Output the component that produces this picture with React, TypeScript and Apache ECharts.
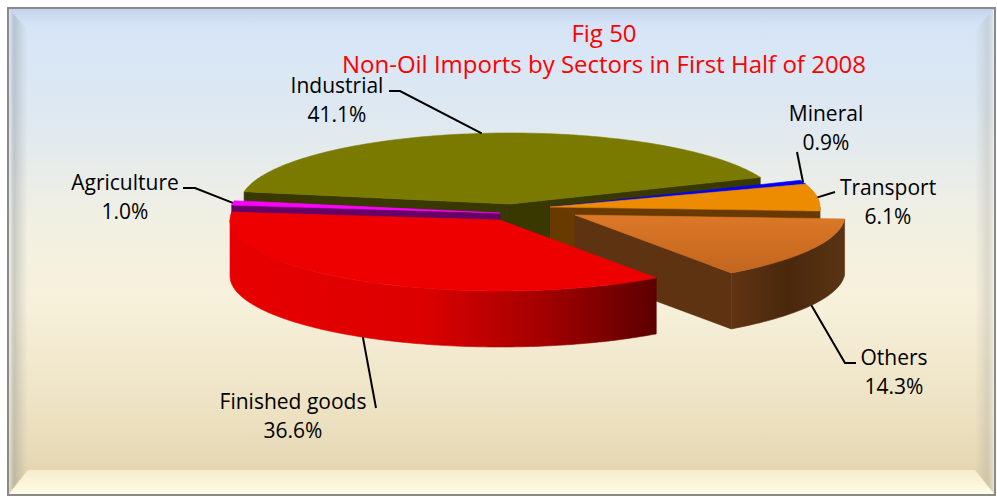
import React, { useEffect, useRef } from "react";
import * as echarts from "echarts";

// ---------- data ----------
const categories = ["Industrial", "Mineral", "Transport", "Others", "Finished goods", "Agriculture"];
const shares = [41.1, 0.9, 6.1, 14.3, 36.6, 1.0];
const titleLines = ["Fig 50", "Non-Oil Imports by Sectors in First Half of 2008"];

// ---------- layout / style ----------
const FONT_FAMILY = '"Open Sans", "Noto Sans", sans-serif';
const CX = 525, CY = 210, RX = 270, RY = 71, DEPTH = 56, START_ANGLE = 280;
const RAD = Math.PI / 180;
const EXPLODE: number[][] = [[-15, -6], [25, -3], [25, -3], [50, 5], [-25, 10], [-25, 3]];
const LABEL_POS: number[][] = [[337, 85], [826, 113], [888, 187], [894, 357], [293, 401], [125, 182]];
const LEADER_PTS: number[][][] = [
  [[400, 91], [389, 91]],
  [[797, 152]],
  [[835, 192]],
  [[845, 363], [856, 363]],
  [[376, 408]],
  [[195, 188], [183, 188]],
];

const lg = (x0: number, y0: number, x1: number, y1: number, stops: [number, string][]) =>
  new echarts.graphic.LinearGradient(x0, y0, x1, y1, stops.map(([offset, color]) => ({ offset, color })));

const TOP_FILL: any[] = [
  "#7a7a00",
  "#0000ff",
  "#ee8c00",
  lg(0, 0, 0, 1, [[0, "#dc7828"], [1, "#c2661e"]]),
  "#ee0000",
  "#ff00ff",
];
const SIDE_FILL: any[] = ["#383800", "#00008a", "#683a00", "#5e3312", "#8a0000", "#660066"];
const WALL_FILL: any[] = [
  "#4a4a00",
  "#0000a0",
  "#6a3c00",
  lg(0, 0, 1, 0, [[0, "#603414"], [0.5, "#4a280c"], [1, "#5a3414"]]),
  lg(0, 0, 1, 0, [[0, "#e80000"], [0.45, "#dc0000"], [0.75, "#a00000"], [1, "#5c0000"]]),
  "#7a007a",
];

const total = shares.reduce((s, v) => s + v, 0);
const starts: number[] = [];
{
  let acc = 0;
  shares.forEach((v) => {
    starts.push(START_ANGLE + (acc / total) * 360);
    acc += v;
  });
}
const mids = shares.map((v, i) => starts[i] + (v / total) * 180);
const order = shares.map((_, i) => i).sort((p, q) => -Math.cos(mids[p] * RAD) + Math.cos(mids[q] * RAD));
const RANK: number[] = [];
order.forEach((idx, r) => (RANK[idx] = r));

function renderItem(params: any, api: any) {
  const i = params.dataIndex;
  const v = api.value(0) as number;
  const a = starts[i];
  const b = a + (v / total) * 360;
  const [ox, oy] = EXPLODE[i];
  const P = (t: number, r: number, z: number) => [
    CX + ox + r * RX * Math.sin(t * RAD),
    CY + oy - r * RY * Math.cos(t * RAD) + z,
  ];
  const arc = (t0: number, t1: number, z: number) => {
    const n = Math.max(2, Math.ceil(Math.abs(t1 - t0)));
    const pts: number[][] = [];
    for (let k = 0; k <= n; k++) pts.push(P(t0 + ((t1 - t0) * k) / n, 1, z));
    return pts;
  };
  const poly = (points: number[][], fill: any, z2: number) => ({
    type: "polygon",
    z2,
    shape: { points },
    style: { fill, stroke: fill, lineWidth: 0.6 },
  });
  const base = RANK[i] * 10;
  const children: any[] = [];
  if (Math.sin(a * RAD) < 0)
    children.push(poly([P(a, 0, 0), P(a, 1, 0), P(a, 1, DEPTH), P(a, 0, DEPTH)], SIDE_FILL[i], base + 1));
  if (Math.sin(b * RAD) > 0)
    children.push(poly([P(b, 0, 0), P(b, 1, 0), P(b, 1, DEPTH), P(b, 0, DEPTH)], SIDE_FILL[i], base + 1));
  for (let k = -1; k <= 1; k++) {
    const lo = Math.max(a, 90 + 360 * k);
    const hi = Math.min(b, 270 + 360 * k);
    if (hi > lo) {
      children.push(poly(arc(lo, hi, 0).concat(arc(hi, lo, DEPTH)), WALL_FILL[i], base + 2));
    }
  }
  children.push(poly([P(a, 0, 0)].concat(arc(a, b, 0)), TOP_FILL[i], base + 3));

  // leader line
  const mid = (a + b) / 2;
  const front = Math.cos(mid * RAD) < 0;
  const anchor = P(mid, 1, front ? DEPTH : 0);
  children.push({
    type: "polyline",
    z2: 200,
    shape: { points: [anchor].concat(LEADER_PTS[i]) },
    style: { stroke: "#000", lineWidth: 2, fill: null },
  });
  const [lx, ly] = LABEL_POS[i];
  const textStyle = (text: string, y: number) => ({
    type: "text",
    z2: 210,
    x: lx,
    y,
    style: {
      text,
      fill: "#000",
      font: `21px ${FONT_FAMILY}`,
      lineHeight: 21,
      align: "center",
      verticalAlign: "middle",
      textAlign: "center",
      textVerticalAlign: "middle",
    },
  });
  children.push(textStyle(categories[i], ly));
  children.push(textStyle(`${v.toFixed(1)}%`, ly + 29));
  return { type: "group", children };
}

export default function App() {
  const ref = useRef<HTMLDivElement>(null);
  useEffect(() => {
    if (!ref.current) return;
    const chart = echarts.init(ref.current, null, { renderer: "svg" });
    const titleEl = (text: string, y: number) => ({
      type: "text",
      x: 604,
      y,
      z: 10,
      style: {
        text,
        fill: "#ff0000",
        font: `24px ${FONT_FAMILY}`,
        lineHeight: 24,
        align: "center",
        verticalAlign: "middle",
        textAlign: "center",
        textVerticalAlign: "middle",
      },
    });
    chart.setOption({
      animation: false,
      graphic: {
        elements: [
          {
            type: "rect",
            z: -10,
            shape: { x: 8, y: 8, width: 987, height: 487 },
            style: {
              fill: lg(0, 0, 0, 1, [
                [0, "#d4e4f8"],
                [0.2, "#dde8f2"],
                [0.45, "#f2f0e2"],
                [0.6, "#f7f1dc"],
                [0.85, "#ece0c0"],
                [1, "#e2d2aa"],
              ]),
            },
          },
          {
            type: "polygon",
            z: -9,
            shape: { points: [[8, 8], [995, 8], [975, 30], [28, 30]] },
            style: { fill: lg(0, 0, 0, 1, [[0, "#c0d0e6"], [1, "rgba(212,226,246,0)"]]) },
          },
          {
            type: "polygon",
            z: -9,
            shape: { points: [[8, 8], [28, 30], [28, 470], [8, 495]] },
            style: { fill: lg(0, 0, 1, 0, [[0, "rgba(255,255,255,0.35)"], [0.3, "rgba(120,130,140,0.35)"], [1, "rgba(150,150,150,0)"]]) },
          },
          {
            type: "polygon",
            z: -9,
            shape: { points: [[995, 8], [975, 30], [975, 470], [995, 495]] },
            style: { fill: lg(1, 0, 0, 0, [[0, "rgba(255,255,255,0.5)"], [0.4, "rgba(150,150,140,0.25)"], [1, "rgba(150,150,150,0)"]]) },
          },
          {
            type: "polygon",
            z: -9,
            shape: { points: [[8, 495], [28, 470], [975, 470], [995, 495]] },
            style: { fill: lg(0, 0, 0, 1, [[0, "#f6eccc"], [1, "#fffde8"]]) },
          },
          {
            type: "rect",
            z: -8,
            shape: { x: 8, y: 8, width: 987, height: 487 },
            style: { fill: null, stroke: "#8a8a8a", lineWidth: 2 },
          },
          titleEl(titleLines[0], 32),
          titleEl(titleLines[1], 63),
        ],
      },
      series: [
        {
          type: "custom",
          coordinateSystem: "none",
          silent: true,
          data: shares.map((v, i) => ({ name: categories[i], value: [v] })),
          renderItem,
        },
      ],
    });
    return () => chart.dispose();
  }, []);
  return <div ref={ref} style={{ position: "absolute", left: 0, top: 0, width: 997, height: 497 }} />;
}
